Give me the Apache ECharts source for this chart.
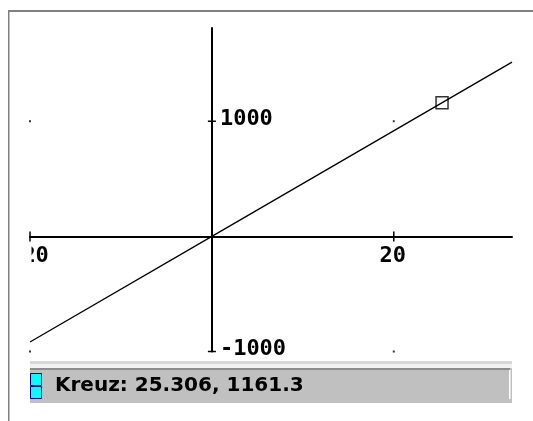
<!DOCTYPE html>
<html>
<head>
<meta charset="utf-8">
<script src="https://cdn.jsdelivr.net/npm/echarts@6/dist/echarts.min.js"></script>
<style>
  html, body { margin: 0; padding: 0; background: #fff; }
  #chart { width: 533px; height: 421px; }
</style>
</head>
<body>
<div id="chart"></div>
<script>
// values
let lineData = [[-20, -918], [0, 0], [33, 1514]];
let cursor = [25.306, 1161.3];
let gridDots = [[-20, 1000], [20, 1000], [-20, -1000], [20, -1000]];
let xTicks = [-20, 20];
let yTicks = [-1000, 1000];

let monoFont = 'bold 22px "DejaVu Sans Mono"';

//tick marks crossing the axis on both sides, with the label next to them
function tickItem(params, api) {
    let isX = api.value(2) === 0;
    let v = isX ? api.value(0) : api.value(1);
    let p = api.coord([api.value(0), api.value(1)]);
    let shape, label;
    if (isX) {
        shape = { x1: p[0], y1: p[1] - 5, x2: p[0], y2: p[1] + 5 };
        label = { x: p[0] - 1, y: p[1] + 20, align: 'center' };
    } else {
        shape = { x1: p[0] - 4, y1: p[1], x2: p[0] + 4, y2: p[1] };
        label = { x: p[0] + 8, y: p[1] - 2, align: 'left' };
    }
    return {
        type: 'group',
        children: [
            { type: 'line', shape: shape, style: { stroke: '#000', lineWidth: 1.5 } },
            {
                type: 'text',
                style: {
                    x: label.x,
                    y: label.y,
                    text: String(v),
                    font: monoFont,
                    fill: '#000',
                    align: label.align,
                    verticalAlign: 'middle'
                }
            }
        ]
    };
}

let tickData = xTicks.map(v => [v, 0, 0]).concat(yTicks.map(v => [0, v, 1]));

let option = {
    backgroundColor: '#fff',
    animation: false,
    grid: { left: 30, right: 21, top: 28, bottom: 69.5 },
    xAxis: {
        type: 'value',
        min: -20,
        max: 33,
        interval: 20,
        axisLine: { onZero: true, lineStyle: { color: '#000', width: 2 } },
        axisTick: { show: false },
        splitLine: { show: false },
        axisLabel: { show: false }
    },
    yAxis: {
        type: 'value',
        min: -1000,
        max: 1810,
        interval: 1000,
        axisLine: { onZero: true, lineStyle: { color: '#000', width: 2 } },
        axisTick: { show: false },
        splitLine: { show: false },
        axisLabel: { show: false }
    },
    series: [
        {
            type: 'line',
            data: lineData,
            symbol: 'none',
            lineStyle: { color: '#000', width: 1.3 },
            z: 3
        },
        {
            type: 'scatter',
            data: gridDots,
            symbol: 'rect',
            symbolSize: 2,
            itemStyle: { color: '#000' },
            z: 3
        },
        {
            type: 'custom',
            data: tickData,
            renderItem: tickItem,
            z: 4
        },
        {
            type: 'scatter',
            data: [cursor],
            symbol: 'rect',
            symbolSize: 12,
            itemStyle: { color: 'rgba(0,0,0,0)', borderColor: '#000', borderWidth: 1.5 },
            z: 5
        }
    ],
    graphic: [
        // the label at -20 is cut off at the edge of the plot
        { type: 'rect', z: 100, shape: { x: 10, y: 243, width: 21.5, height: 28 }, style: { fill: '#fff' } },
        // window frame
        { type: 'rect', z: 100, shape: { x: 8, y: 10, width: 525, height: 2 }, style: { fill: '#808080' } },
        { type: 'rect', z: 100, shape: { x: 8, y: 10, width: 1.5, height: 411 }, style: { fill: '#808080' } },
        // status bar
        { type: 'rect', z: 90, shape: { x: 30, y: 361, width: 482, height: 3 }, style: { fill: '#d8d8d8' } },
        { type: 'rect', z: 90, shape: { x: 30, y: 364, width: 482, height: 4 }, style: { fill: '#f2f2f2' } },
        { type: 'rect', z: 90, shape: { x: 30, y: 368, width: 482, height: 35 }, style: { fill: '#c0c0c0' } },
        { type: 'rect', z: 91, shape: { x: 30, y: 368, width: 480, height: 2 }, style: { fill: '#8c8c8c' } },
        { type: 'rect', z: 91, shape: { x: 509, y: 370, width: 1.5, height: 29 }, style: { fill: '#ffffff' } },
        { type: 'rect', z: 92, shape: { x: 30.5, y: 373.5, width: 11, height: 12 }, style: { fill: '#00ffff', stroke: '#000080', lineWidth: 1 } },
        { type: 'rect', z: 92, shape: { x: 30.5, y: 386.5, width: 11, height: 12 }, style: { fill: '#00ffff', stroke: '#000080', lineWidth: 1 } },
        {
            type: 'text', z: 92, x: 55, y: 386,
            style: {
                text: 'Kreuz: ' + cursor[0] + ', ' + cursor[1],
                fontFamily: 'DejaVu Sans',
                fontWeight: 'bold',
                fontSize: 20,
                fill: '#000',
                verticalAlign: 'middle'
            }
        }
    ]
};

let myChart = echarts.init(document.querySelector('#chart'));
myChart.setOption(option);
</script>
</body>
</html>
